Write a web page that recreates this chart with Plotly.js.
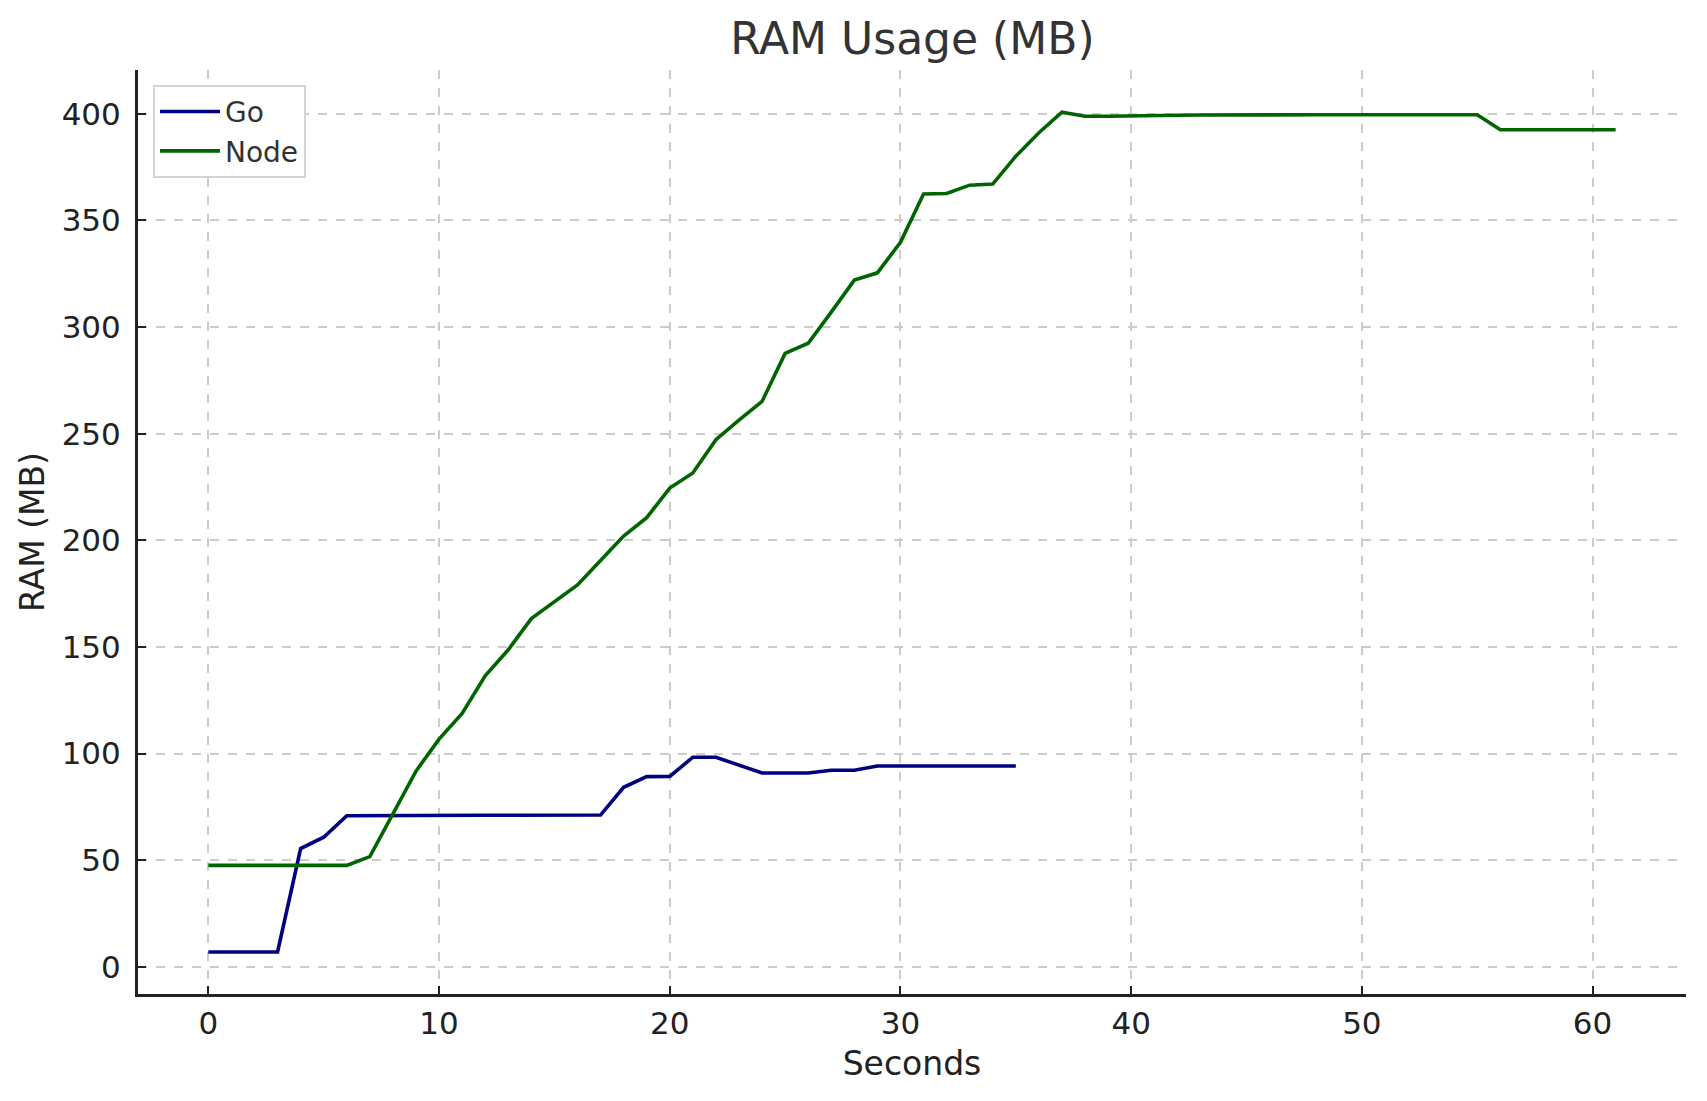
<!DOCTYPE html>
<html>
<head>
<meta charset="utf-8">
<script src="https://cdn.plot.ly/plotly-3.0.1.min.js"></script>
<style>
  html, body { margin: 0; padding: 0; background: #fff; }
  #ram_chart { width: 1707px; height: 1101px; }
</style>
</head>
<body>
<div id="ram_chart"></div>
<script>
  // seconds since start
  let go_seconds = [
    0, 1, 2, 3, 4, 5, 6, 7, 8, 9, 10, 11, 12, 13, 14, 15, 16, 17, 18, 19,
    20, 21, 22, 23, 24, 25, 26, 27, 28, 29, 30, 31, 32, 33, 34, 35,
  ];
  let go_ram = [
    7, 7, 7, 7, 55.5, 60.8, 70.9, 71, 71, 71, 71, 71.1, 71.1, 71.1, 71.1,
    71.1, 71.2, 71.2, 84.2, 89.2, 89.3, 98.3, 98.3, 94.8, 90.9, 90.9, 90.9,
    92.2, 92.2, 94.2, 94.2, 94.2, 94.2, 94.2, 94.2, 94.2,
  ];

  let node_seconds = [
    0, 1, 2, 3, 4, 5, 6, 7, 8, 9, 10, 11, 12, 13, 14, 15, 16, 17, 18, 19,
    20, 21, 22, 23, 24, 25, 26, 27, 28, 29, 30, 31, 32, 33, 34, 35, 36, 37,
    38, 39, 40, 41, 42, 43, 44, 45, 46, 47, 48, 49, 50, 51, 52, 53, 54, 55,
    56, 57, 58, 59, 60, 61,
  ];
  let node_ram = [
    47.6, 47.6, 47.6, 47.6, 47.6, 47.6, 47.6, 51.7, 71.5, 91.8, 106.8,
    118.8, 136.5, 148.7, 163.3, 171.2, 179.1, 190.5, 202, 210.6, 224.5,
    231.6, 247.2, 256.3, 265.1, 287.6, 292.4, 307, 322, 325.4, 339.7, 362.4,
    362.6, 366.5, 367, 380.1, 391.1, 400.7, 398.8, 398.8, 399.1, 399.2,
    399.3, 399.4, 399.5, 399.5, 399.5, 399.5, 399.5, 399.5, 399.5, 399.5,
    399.5, 399.5, 399.5, 399.5, 392.5, 392.5, 392.5, 392.5, 392.5, 392.5,
  ];

  let x_ticks = [0, 10, 20, 30, 40, 50, 60];
  let y_ticks = [0, 50, 100, 150, 200, 250, 300, 350, 400];

  let font_family = "DejaVu Sans, sans-serif";

  let traces = [
    {
      x: go_seconds,
      y: go_ram,
      name: "Go",
      type: "scatter",
      mode: "lines",
      line: { color: "#000080", width: 3.6 },
    },
    {
      x: node_seconds,
      y: node_ram,
      name: "Node",
      type: "scatter",
      mode: "lines",
      line: { color: "#006400", width: 3.6 },
    },
  ];

  let layout = {
    width: 1707,
    height: 1101,
    margin: { l: 138, r: 21, t: 70, b: 107 },
    paper_bgcolor: "#ffffff",
    plot_bgcolor: "#ffffff",
    font: { family: font_family, color: "#222222" },
    title: {
      text: "RAM Usage (MB)",
      font: { family: font_family, size: 44, color: "#333333" },
      x: 0.5345,
      xanchor: "center",
      y: 0.965,
      yanchor: "middle",
    },
    xaxis: {
      title: { text: "Seconds", font: { size: 33, color: "#222222" }, standoff: 12 },
      range: [-3.05, 64.05],
      tickvals: x_ticks,
      ticks: "inside",
      ticklen: 8,
      tickwidth: 2,
      tickcolor: "#222222",
      ticklabelstandoff: 0,
      tickfont: { size: 31, color: "#222222" },
      showline: true,
      linecolor: "#222222",
      linewidth: 3,
      mirror: false,
      zeroline: false,
      showgrid: true,
      gridcolor: "#cccccc",
      gridwidth: 1.5,
      griddash: "dash",
    },
    yaxis: {
      title: { text: "RAM (MB)", font: { size: 33, color: "#222222" }, standoff: 8 },
      range: [-12.7, 420.5],
      tickvals: y_ticks,
      ticks: "inside",
      ticklen: 8,
      tickwidth: 2,
      tickcolor: "#222222",
      ticklabelstandoff: 8,
      tickfont: { size: 31, color: "#222222" },
      showline: true,
      linecolor: "#222222",
      linewidth: 3,
      mirror: false,
      zeroline: false,
      showgrid: true,
      gridcolor: "#cccccc",
      gridwidth: 1.5,
      griddash: "dash",
    },
    showlegend: true,
    legend: {
      x: 0.0097,
      y: 0.984,
      xanchor: "left",
      yanchor: "top",
      bgcolor: "#ffffff",
      bordercolor: "#d4d4d4",
      borderwidth: 2,
      font: { family: font_family, size: 28, color: "#333333" },
      itemwidth: 60,
    },
  };

  Plotly.newPlot(document.getElementById("ram_chart"), traces, layout, {
    displayModeBar: false,
    responsive: false,
  });
</script>
</body>
</html>
